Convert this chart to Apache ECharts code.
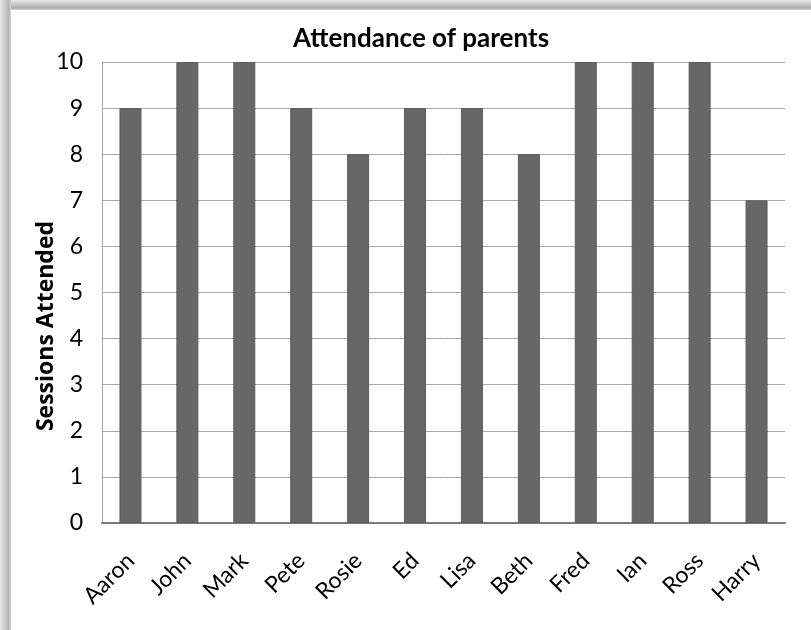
<!DOCTYPE html>
<html>
<head>
<meta charset="utf-8">
<script src="https://cdn.jsdelivr.net/npm/echarts@6/dist/echarts.min.js"></script>
<style>
  html, body { margin: 0; padding: 0; background: #fff; }
  #frame {
    position: relative; width: 811px; height: 630px; overflow: hidden;
    background:
      linear-gradient(to right, #e6e6e6 0px, #b4b4b4 9px, #d8d8d8 11px, rgba(255,255,255,0) 11px) left top / 11px 100% no-repeat,
      linear-gradient(to bottom, #e8e8e8 0px, #acacac 8px, #d4d4d4 10px, rgba(255,255,255,0) 10px) left top / 100% 10px no-repeat,
      #fff;
  }
  #chart { position: absolute; left: 0; top: 0; width: 811px; height: 630px; }
</style>
</head>
<body>
<div id="frame"><div id="chart"></div></div>
<script>
const names = ['Aaron', 'John', 'Mark', 'Pete', 'Rosie', 'Ed', 'Lisa', 'Beth', 'Fred', 'Ian', 'Ross', 'Harry']
const sessions = [9, 10, 10, 9, 8, 9, 9, 8, 10, 10, 10, 7]

const font = 'Lato, "Open Sans", sans-serif'

var myChart = echarts.init(document.getElementById('chart'))
myChart.setOption({
  animation: false,
  title: {
    text: 'Attendance of parents',
    left: 288,
    top: 21,
    textStyle: { fontFamily: font, fontSize: 26, fontWeight: 'bold', color: '#000' }
  },
  grid: { left: 102, right: 26, top: 62, bottom: 107 },
  xAxis: {
    type: 'category',
    data: names,
    axisLine: { show: true, lineStyle: { color: '#7a7a7a', width: 2 } },
    axisTick: { show: false },
    axisLabel: { rotate: 45, margin: 34, fontFamily: font, fontSize: 23, color: '#000' }
  },
  yAxis: {
    type: 'value',
    min: 0,
    max: 10,
    interval: 1,
    axisLine: { show: true, lineStyle: { color: '#a8a8a8', width: 1 } },
    axisTick: { show: false },
    splitLine: { show: true, lineStyle: { color: '#a8a8a8', width: 1 } },
    axisLabel: { margin: 19, fontFamily: font, fontSize: 23, color: '#000' }
  },
  graphic: [{
    type: 'text',
    x: 46,
    y: 326,
    rotation: Math.PI / 2,
    style: {
      text: 'Sessions Attended',
      fontFamily: '"Open Sans", sans-serif', fontSize: 23, fontWeight: 'bold', fill: '#000',
      align: 'center', verticalAlign: 'middle'
    }
  }],
  series: [{
    type: 'bar',
    data: sessions,
    barWidth: 22,
    itemStyle: { color: '#676767', borderColor: '#5c5c5c', borderWidth: 1 }
  }]
})
</script>
</body>
</html>
